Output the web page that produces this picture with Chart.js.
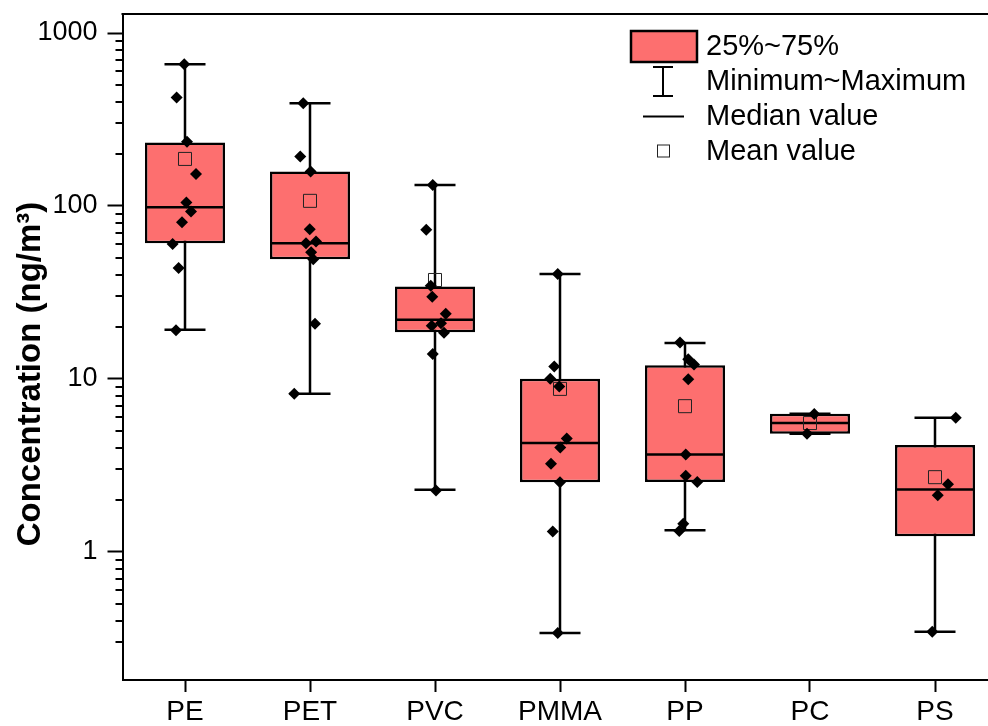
<!DOCTYPE html>
<html>
<head>
<meta charset="utf-8">
<script src="https://cdn.jsdelivr.net/npm/chart.js@4.4.1/dist/chart.umd.min.js"></script>
<style>
  html, body { margin: 0; padding: 0; background: #fff; overflow: hidden; }
  #wrap { width: 988px; height: 726px; }
</style>
</head>
<body>
<div id="wrap"><canvas id="boxChart" width="988" height="726"></canvas></div>
<script>
// Categories and box statistics (ng/m3)
const categories = ['PE', 'PET', 'PVC', 'PMMA', 'PP', 'PC', 'PS'];
const q1Values = [60.9, 49.2, 18.6, 2.52, 2.53, 4.81, 1.23];
const q3Values = [233, 158, 34.2, 10.0, 12.0, 6.28, 4.14];
const medianValues = [98.3, 60.9, 22.0, 4.25, 3.65, 5.55, 2.29];
const minValues = [19.2, 8.19, 2.28, 0.339, 1.33, 4.81, 0.345];
const maxValues = [659, 392, 132, 40.4, 16.1, 6.28, 5.95];
const meanValues = [187, 107, 37.3, 8.75, 6.95, 5.55, 2.70];

// Individual samples per category, with their horizontal jitter (category units)
const sampleValues = [
    [659, 424, 235, 153, 104.5, 93, 80.5, 60.3, 43.8, 19.1],
    [392, 193, 158, 73.3, 60.9, 62.2, 54, 49.2, 20.8, 8.19],
    [132, 72.9, 34.5, 29.8, 23.8, 20.3, 21, 18.5, 13.9, 2.26],
    [40.4, 11.8, 10.0, 9.03, 4.52, 4.01, 3.23, 2.52, 1.31, 0.339],
    [16.2, 13.0, 12.1, 9.96, 3.65, 2.75, 2.53, 1.45, 1.32],
    [6.26, 4.81],
    [5.95, 2.46, 2.12, 0.345]
];
const sampleJitter = [
    [-0.006, -0.067, 0.016, 0.088, 0.011, 0.048, -0.024, -0.099, -0.051, -0.072],
    [-0.054, -0.078, 0.005, -0.002, -0.032, 0.048, 0.009, 0.026, 0.04, -0.126],
    [-0.018, -0.07, -0.034, -0.022, 0.086, -0.026, 0.048, 0.072, -0.018, 0.008],
    [-0.018, -0.046, -0.078, -0.006, 0.054, 0.002, -0.072, 0, -0.058, -0.018],
    [-0.04, 0.026, 0.072, 0.026, 0.006, 0.006, 0.098, -0.014, -0.046],
    [0.034, -0.024],
    [0.166, 0.104, 0.022, -0.022]
];

const yTickLabels = [1, 10, 100, 1000];
const yTitle = 'Concentration (ng/m³)';
const legendLabels = ['25%~75%', 'Minimum~Maximum', 'Median value', 'Mean value'];

const FONT = "'Liberation Sans', Arial, sans-serif";
const BOX_COLOR = '#fd6f6f';

const boxData = categories.map((c, i) => ({ x: i + 1, y: [q1Values[i], q3Values[i]] }));
const meanPoints = categories.map((c, i) => ({ x: i + 1, y: meanValues[i] }));
let samplePoints = [];
sampleValues.forEach((vals, i) => {
    vals.forEach((v, k) => samplePoints.push({ x: i + 1 + sampleJitter[i][k], y: v }));
});

function isDecade(v) {
    const e = Math.round(Math.log10(v));
    return Math.abs(v - Math.pow(10, e)) < 1e-9 * Math.pow(10, e);
}
function isNiceMinor(v) {
    const e = Math.floor(Math.log10(v) + 1e-9);
    const m = v / Math.pow(10, e);
    return Math.abs(m - Math.round(m)) < 1e-6 && !isDecade(v);
}

const boxPlotPlugin = {
    id: 'boxPlot',
    beforeDatasetsDraw(chart) {
        // whiskers + caps, behind the boxes
        const { ctx, scales: { x, y } } = chart;
        ctx.save();
        ctx.strokeStyle = '#000';
        ctx.lineWidth = 2.5;
        categories.forEach((c, i) => {
            const cx = x.getPixelForValue(i + 1);
            const half = x.getPixelForValue(i + 1.164) - cx;
            const yMin = y.getPixelForValue(minValues[i]);
            const yMax = y.getPixelForValue(maxValues[i]);
            ctx.beginPath();
            ctx.moveTo(cx, yMin); ctx.lineTo(cx, yMax);
            ctx.moveTo(cx - half, yMin); ctx.lineTo(cx + half, yMin);
            ctx.moveTo(cx - half, yMax); ctx.lineTo(cx + half, yMax);
            ctx.stroke();
        });
        ctx.restore();
    },
    afterDatasetDraw(chart, args) {
        if (args.meta.type !== 'bar') return;
        const { ctx, scales: { y } } = chart;
        ctx.save();
        ctx.strokeStyle = '#000';
        ctx.lineWidth = 2.5;
        args.meta.data.forEach((bar, i) => {
            const yMed = y.getPixelForValue(medianValues[i]);
            ctx.beginPath();
            ctx.moveTo(bar.x - bar.width / 2 + 1, yMed);
            ctx.lineTo(bar.x + bar.width / 2 - 1, yMed);
            ctx.stroke();
        });
        ctx.restore();
    },
    afterDraw(chart) {
        const { ctx, chartArea, scales: { y } } = chart;
        ctx.save();
        ctx.strokeStyle = '#000';
        // minor ticks on the log axis
        ctx.lineWidth = 2;
        y.ticks.forEach(t => {
            if (!isNiceMinor(t.value)) return;
            const py = Math.round(y.getPixelForValue(t.value));
            ctx.beginPath();
            ctx.moveTo(chartArea.left - 7, py);
            ctx.lineTo(chartArea.left, py);
            ctx.stroke();
        });
        // top frame
        ctx.beginPath();
        ctx.moveTo(chartArea.left - 1, chartArea.top);
        ctx.lineTo(chart.width, chartArea.top);
        ctx.stroke();

        // y title
        ctx.save();
        ctx.translate(40, 374);
        ctx.rotate(-Math.PI / 2);
        ctx.font = 'bold 33px ' + FONT;
        ctx.fillStyle = '#000';
        ctx.textAlign = 'center';
        ctx.textBaseline = 'alphabetic';
        ctx.fillText(yTitle, 0, 0);
        ctx.restore();

        // legend
        const lx = 663, rowY = [46.5, 81.5, 116.5, 151.5];
        ctx.fillStyle = BOX_COLOR;
        ctx.fillRect(631, 31, 66, 31);
        ctx.lineWidth = 2.5;
        ctx.strokeRect(631, 31, 66, 31);
        ctx.lineWidth = 2;
        ctx.beginPath();
        ctx.moveTo(lx, 67); ctx.lineTo(lx, 96);
        ctx.moveTo(lx - 10, 67); ctx.lineTo(lx + 10, 67);
        ctx.moveTo(lx - 10, 96); ctx.lineTo(lx + 10, 96);
        ctx.moveTo(643, rowY[2]); ctx.lineTo(684, rowY[2]);
        ctx.stroke();
        ctx.lineWidth = 1;
        ctx.strokeStyle = '#222';
        ctx.strokeRect(657.5, 145, 12, 12);
        ctx.fillStyle = '#000';
        ctx.font = '29px ' + FONT;
        ctx.textBaseline = 'middle';
        ctx.textAlign = 'left';
        legendLabels.forEach((txt, k) => ctx.fillText(txt, 706, rowY[k]));
        ctx.restore();
    }
};

const ctx = document.getElementById('boxChart').getContext('2d');
new Chart(ctx, {
    type: 'bar',
    data: {
        datasets: [
            {
                type: 'scatter',
                label: 'Samples',
                data: samplePoints,
                order: 1,
                pointStyle: 'rectRot',
                pointRadius: 6,
                backgroundColor: '#000',
                borderColor: '#000',
                borderWidth: 0
            },
            {
                type: 'scatter',
                label: 'Mean value',
                data: meanPoints,
                order: 2,
                pointStyle: 'rect',
                pointRadius: 9.2,
                backgroundColor: 'rgba(0,0,0,0)',
                borderColor: '#222',
                borderWidth: 1
            },
            {
                type: 'bar',
                label: '25%~75%',
                data: boxData,
                order: 3,
                backgroundColor: BOX_COLOR,
                borderColor: '#000',
                borderWidth: 2.5,
                borderSkipped: false,
                categoryPercentage: 0.64,
                barPercentage: 1
            }
        ]
    },
    options: {
        responsive: false,
        animation: false,
        devicePixelRatio: 1,
        layout: { autoPadding: false, padding: { top: 14, right: 0, left: 0, bottom: 0 } },
        plugins: {
            legend: { display: false },
            tooltip: { enabled: false }
        },
        scales: {
            x: {
                type: 'linear',
                min: 0.5,
                max: 7.424,
                offset: false,
                afterBuildTicks: axis => { axis.ticks = categories.map((c, i) => ({ value: i + 1 })); },
                afterFit: axis => {
                    axis.height = 46;
                    axis.paddingLeft = 0;
                    axis.paddingRight = 0;
                },
                ticks: {
                    autoSkip: false,
                    maxRotation: 0,
                    padding: 3,
                    color: '#000',
                    font: { family: FONT, size: 28 },
                    callback: v => categories[Math.round(v) - 1] || ''
                },
                grid: {
                    offset: false,
                    drawOnChartArea: false,
                    drawTicks: true,
                    tickLength: 12,
                    tickWidth: 2,
                    tickColor: '#000'
                },
                border: { display: true, color: '#000', width: 2 }
            },
            y: {
                type: 'logarithmic',
                min: 0.1813,
                max: 1288,
                afterFit: axis => {
                    axis.width = 122.5;
                    axis.paddingTop = 0;
                    axis.paddingBottom = 0;
                },
                ticks: {
                    autoSkip: false,
                    padding: 10,
                    color: '#000',
                    font: { family: FONT, size: 27 },
                    callback: v => (yTickLabels.some(t => Math.abs(t - v) < 1e-9 * t) ? String(v) : '')
                },
                grid: {
                    drawOnChartArea: false,
                    drawTicks: true,
                    tickLength: 15,
                    tickWidth: 2,
                    tickColor: c => (c.tick && isDecade(c.tick.value) ? '#000' : 'rgba(0,0,0,0)')
                },
                border: { display: true, color: '#000', width: 2 },
                title: { display: false }
            }
        }
    },
    plugins: [boxPlotPlugin]
});
</script>
</body>
</html>
